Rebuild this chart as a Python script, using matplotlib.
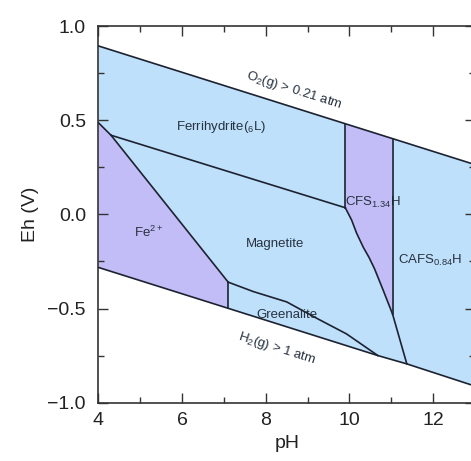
import matplotlib.pyplot as plt
from matplotlib.ticker import MultipleLocator

plt.rcParams['font.family'] = ['Liberation Sans', 'DejaVu Sans']
plt.rcParams['mathtext.default'] = 'regular'

# ---- boundary data (pH, Eh) ----
o2_ph = [4.0, 9.9, 11.03, 13.0]
o2_eh = [0.894, 0.481, 0.402, 0.264]

h2_ph = [4.0, 7.1, 10.68, 11.37, 13.0]
h2_eh = [-0.282, -0.499, -0.750, -0.794, -0.912]

fe_ferri_ph = [4.0, 4.3]
fe_ferri_eh = [0.486, 0.42]

fe_mag_ph = [4.3, 7.1]
fe_mag_eh = [0.42, -0.36]

fe_green_ph = [7.1, 7.1]
fe_green_eh = [-0.36, -0.499]

ferri_mag_ph = [4.3, 9.9]
ferri_mag_eh = [0.42, 0.035]

ferri_cfs_ph = [9.9, 9.9]
ferri_cfs_eh = [0.481, 0.035]

cfs_mag_ph = [9.9, 10.05, 10.17, 10.33, 10.47, 10.6, 10.8, 11.03]
cfs_mag_eh = [0.035, -0.03, -0.10, -0.175, -0.23, -0.29, -0.40, -0.53]

cfs_cafs_ph = [11.03, 11.03]
cfs_cafs_eh = [0.402, -0.53]

mag_cafs_ph = [11.03, 11.37]
mag_cafs_eh = [-0.53, -0.794]

mag_green_ph = [7.1, 7.7, 8.5, 9.2, 9.93, 10.68]
mag_green_eh = [-0.36, -0.41, -0.465, -0.55, -0.635, -0.75]

labels = ['Ferrihydrite($_6$L)', 'Fe$^{2+}$', 'Magnetite', 'Greenalite',
          'CFS$_{1.34}$H', 'CAFS$_{0.84}$H']
label_ph = [6.94, 5.19, 8.22, 8.5, 10.55, 11.92]
label_eh = [0.464, -0.097, -0.155, -0.537, 0.065, -0.247]

blue = '#bfe0fb'
purple = '#c3bdf7'
edge = '#1c2230'

fig = plt.figure(figsize=(4.71, 4.61), dpi=100)
ax = fig.add_axes([0.2091, 0.1265, 0.7994, 0.8171])

# ---- fields ----
fe_poly = (list(zip(fe_ferri_ph, fe_ferri_eh)) + list(zip(fe_mag_ph, fe_mag_eh))[1:]
           + [(7.1, -0.499), (4.0, -0.282)])
ferri_poly = [(4.0, 0.894), (9.9, 0.481), (9.9, 0.035), (4.3, 0.42), (4.0, 0.486)]
cfs_poly = ([(9.9, 0.481), (11.03, 0.402)]
            + list(zip(cfs_mag_ph, cfs_mag_eh))[::-1])
cafs_poly = [(11.03, 0.402), (13.0, 0.264), (13.0, -0.912), (11.37, -0.794), (11.03, -0.53)]
green_poly = list(zip(mag_green_ph, mag_green_eh)) + [(7.1, -0.499)]
mag_poly = ([(4.3, 0.42)] + list(zip(cfs_mag_ph, cfs_mag_eh))
            + [(11.37, -0.794)] + list(zip(mag_green_ph, mag_green_eh))[::-1])

for poly, col in [(fe_poly, purple), (ferri_poly, blue), (cfs_poly, purple),
                  (cafs_poly, blue), (green_poly, blue), (mag_poly, blue)]:
    xs, ys = zip(*poly)
    ax.fill(xs, ys, color=col, lw=0, zorder=1)

# ---- boundaries ----
for xs, ys in [(o2_ph, o2_eh), (h2_ph, h2_eh), (fe_ferri_ph, fe_ferri_eh),
               (fe_mag_ph, fe_mag_eh), (fe_green_ph, fe_green_eh),
               (ferri_mag_ph, ferri_mag_eh), (ferri_cfs_ph, ferri_cfs_eh),
               (cfs_mag_ph, cfs_mag_eh), (cfs_cafs_ph, cfs_cafs_eh),
               (mag_cafs_ph, mag_cafs_eh), (mag_green_ph, mag_green_eh)]:
    ax.plot(xs, ys, color=edge, lw=1.2, zorder=3)

# ---- labels ----
txt = '#27313f'
for s, x, y in zip(labels, label_ph, label_eh):
    ax.text(x, y, s, ha='center', va='center', fontsize=9.5, color=txt, zorder=2.5)

ax.text(8.67, 0.66, 'O$_2$(g) > 0.21 atm', ha='center', va='center',
        fontsize=9.5, color=txt, rotation=-17.5)
ax.text(8.27, -0.713, 'H$_2$(g) > 1 atm', ha='center', va='center',
        fontsize=9.5, color=txt, rotation=-17.5)

# ---- axes ----
ax.set_xlim(4, 13)
ax.set_ylim(-1.0, 1.0)
ax.xaxis.set_major_locator(MultipleLocator(2))
ax.xaxis.set_minor_locator(MultipleLocator(1))
ax.yaxis.set_major_locator(MultipleLocator(0.5))
ax.yaxis.set_minor_locator(MultipleLocator(0.25))
ax.set_xticks([4, 6, 8, 10, 12])
ax.tick_params(which='both', direction='in', top=True, right=True,
               width=1.0, color='#333333', labelsize=14, labelcolor='#222222')
ax.tick_params(which='major', length=7.5)
ax.tick_params(which='minor', length=4)
ax.tick_params(axis='x', pad=7)
ax.tick_params(axis='y', pad=9)
ax.yaxis.set_major_formatter(plt.FuncFormatter(lambda v, p: f'{v:.1f}'.replace('-', '\u2212')))
for sp in ax.spines.values():
    sp.set_color('#333333')
    sp.set_linewidth(1.2)

ax.set_xlabel('pH', fontsize=14, color='#222222', labelpad=4)
ax.set_ylabel('Eh (V)', fontsize=14, color='#222222', labelpad=6)

fig.savefig('out.png', dpi=100)
